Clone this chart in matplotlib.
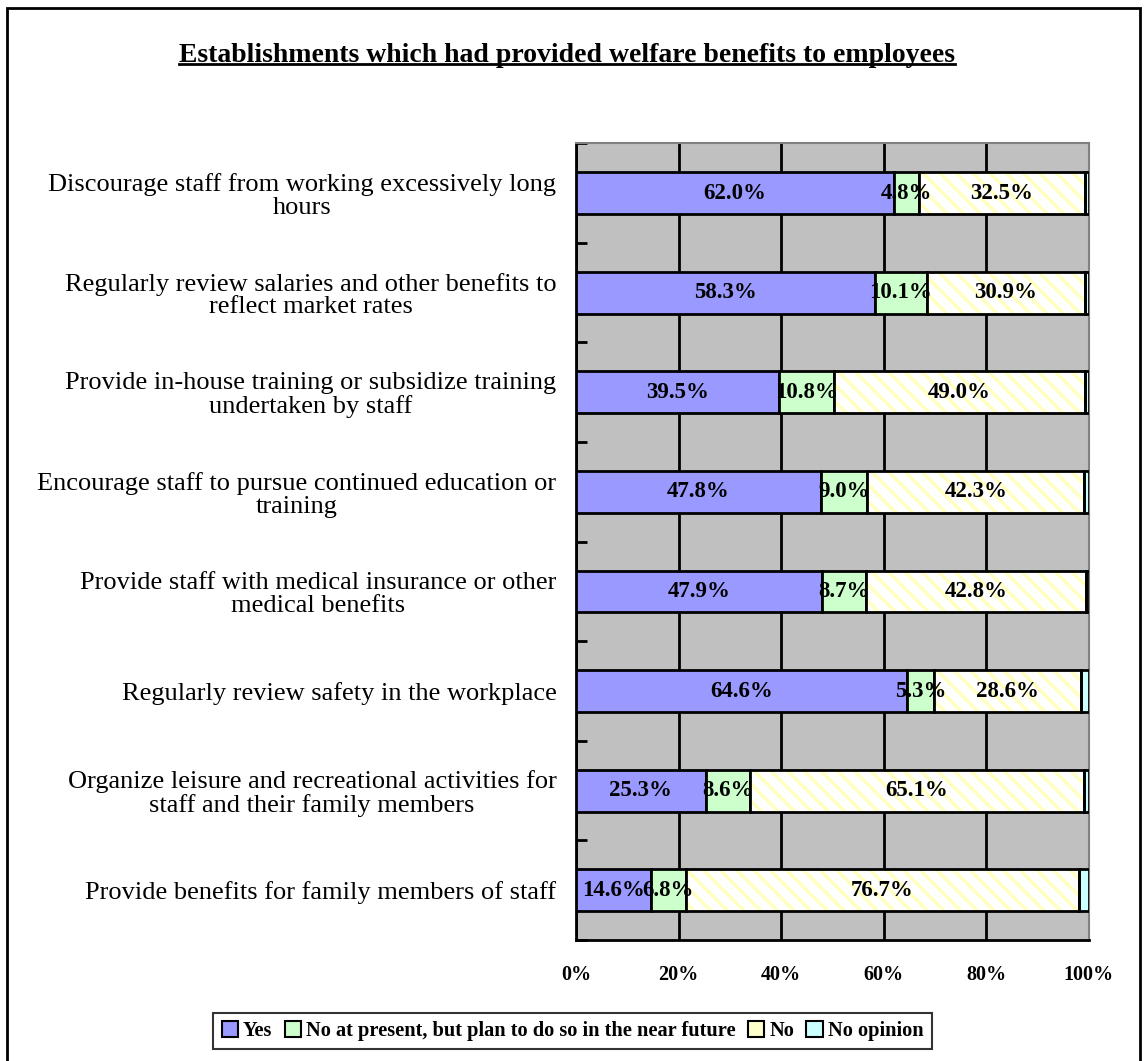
import numpy as np
import matplotlib.pyplot as plt
from matplotlib.patches import Rectangle, Patch
from matplotlib.lines import Line2D

plt.rcParams['font.family'] = ['Liberation Serif', 'DejaVu Serif']
plt.rcParams['hatch.linewidth'] = 2.5

# Data
categories = [
    'Discourage staff from working excessively long\nhours',
    'Regularly review salaries and other benefits to\nreflect market rates',
    'Provide in-house training or subsidize training\nundertaken by staff',
    'Encourage staff to pursue continued education or\ntraining',
    'Provide staff with medical insurance or other\nmedical benefits',
    'Regularly review safety in the workplace',
    'Organize leisure and recreational activities for\nstaff and their family members',
    'Provide benefits for family members of staff',
]
yes = [62.0, 58.3, 39.5, 47.8, 47.9, 64.6, 25.3, 14.6]
plan = [4.8, 10.1, 10.8, 9.0, 8.7, 5.3, 8.6, 6.8]
no = [32.5, 30.9, 49.0, 42.3, 42.8, 28.6, 65.1, 76.7]
no_opinion = [0.7, 0.7, 0.7, 0.9, 0.6, 1.5, 1.0, 1.9]
series_names = ['Yes', 'No at present, but plan to do so in the near future', 'No', 'No opinion']
xticks = [0, 20, 40, 60, 80, 100]

fig = plt.figure(figsize=(11.45, 10.61), dpi=100)
ax = fig.add_axes([0.503, 0.114, 0.448, 0.751])
ax.set_facecolor('#C0C0C0')

y = np.arange(len(categories))
h = 0.42
left = np.zeros(len(categories))

# Yes
ax.barh(y, yes, h, left=left, color='#9999FF', edgecolor='black', linewidth=2, zorder=3)
left += yes
# plan
ax.barh(y, plan, h, left=left, color='#CCFFCC', edgecolor='black', linewidth=2, zorder=3)
left += plan
# No: hatched light yellow on white
ax.barh(y, no, h, left=left, color='white', edgecolor='#FFFFC0', hatch='\\\\', linewidth=0, zorder=3)
ax.barh(y, no, h, left=left, color='none', edgecolor='black', linewidth=2, zorder=4)
left_no = left.copy()
left += no
# No opinion
ax.barh(y, no_opinion, h, left=left, color='#CCFFFF', edgecolor='black', linewidth=2, zorder=3)

# value labels
for i in range(len(y)):
    ax.text(yes[i] / 2, y[i], f'{yes[i]:.1f}%', ha='center', va='center',
            fontsize=16.5, fontweight='bold', zorder=5)
    ax.text(yes[i] + plan[i] / 2, y[i], f'{plan[i]:.1f}%', ha='center', va='center',
            fontsize=16.5, fontweight='bold', zorder=5)
    ax.text(left_no[i] + no[i] / 2, y[i], f'{no[i]:.1f}%', ha='center', va='center',
            fontsize=16.5, fontweight='bold', zorder=5)

ax.set_xlim(0, 100)
ax.set_ylim(len(categories) - 0.5, -0.5)
ax.set_xticks(xticks)
ax.set_xticklabels([f'{t}%' for t in xticks], fontsize=14.5, fontweight='bold')
ax.tick_params(axis='x', length=0, pad=18)
ax.grid(axis='x', color='black', linewidth=2, zorder=1)
ax.set_axisbelow(True)

ax.set_yticks(y)
ax.set_yticklabels(categories, fontsize=19, multialignment='center', linespacing=1.05)
ax.tick_params(axis='y', which='major', length=0, pad=14)
ax.set_yticks(np.arange(-0.5, len(categories) + 0.5, 1), minor=True)
ax.tick_params(axis='y', which='minor', direction='in', length=8, width=2, color='black')

for s in ['left', 'bottom']:
    ax.spines[s].set_color('black')
    ax.spines[s].set_linewidth(2)
for s in ['top', 'right']:
    ax.spines[s].set_color('#808080')
    ax.spines[s].set_linewidth(1.5)

# Title with underline
title = fig.text(0.495, 0.948, 'Establishments which had provided welfare benefits to employees',
                 ha='center', va='center', fontsize=20, fontweight='bold')
fig.canvas.draw()
bb = title.get_window_extent().transformed(fig.transFigure.inverted())
fig.add_artist(Line2D([bb.x0, bb.x1], [bb.y0 + 0.003, bb.y0 + 0.003],
                      color='black', linewidth=2, transform=fig.transFigure))

# Legend
handles = [
    Patch(facecolor='#9999FF', edgecolor='black', linewidth=1.5),
    Patch(facecolor='#CCFFCC', edgecolor='black', linewidth=1.5),
    Patch(facecolor='#FFFFCC', edgecolor='black', linewidth=1.5),
    Patch(facecolor='#CCFFFF', edgecolor='black', linewidth=1.5),
]
leg = fig.legend(handles, series_names, loc='center', bbox_to_anchor=(0.5, 0.028), ncol=4,
                 frameon=True, fancybox=False, edgecolor='black', handlelength=0.8,
                 handleheight=0.8, handletextpad=0.25, columnspacing=0.6,
                 prop={'size': 14.7, 'weight': 'bold'}, borderpad=0.4)
leg.get_frame().set_linewidth(1.5)

# outer frame
fig.add_artist(Rectangle((0.006, -0.01), 0.99, 1.002, transform=fig.transFigure,
                         fill=False, edgecolor='black', linewidth=2))

fig.savefig('out.png', dpi=100)
